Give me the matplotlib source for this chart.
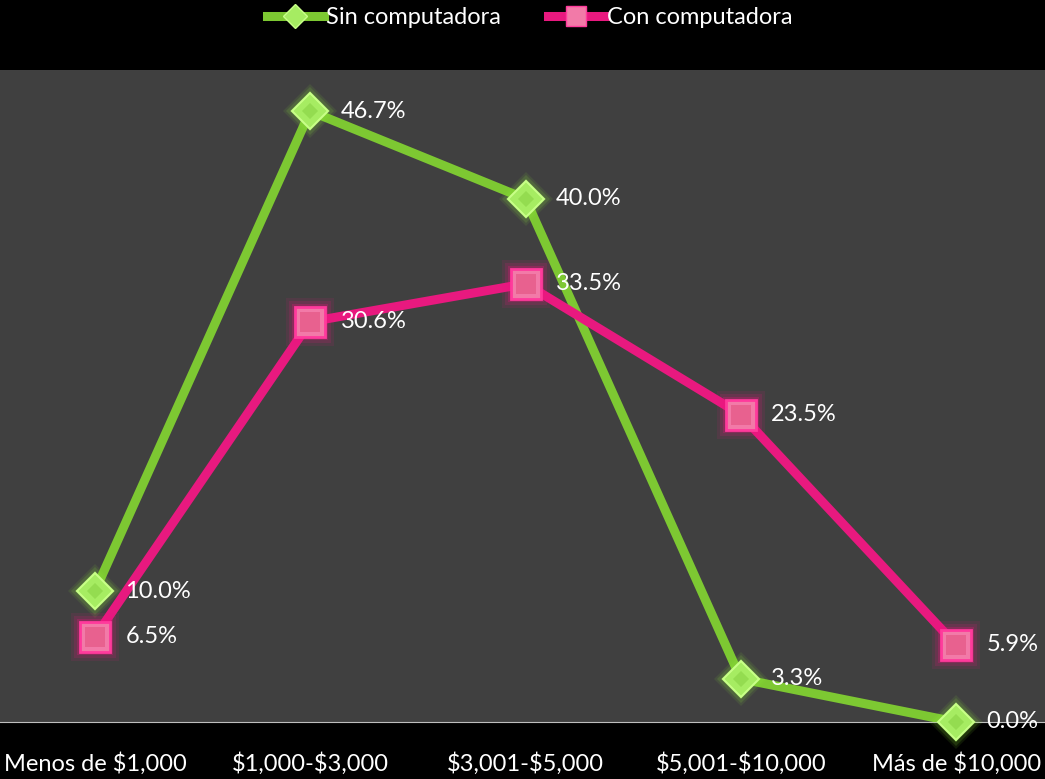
import matplotlib.pyplot as plt
from matplotlib.lines import Line2D

categorias = ["Menos de $1,000", "$1,000-$3,000", "$3,001-$5,000", "$5,001-$10,000", "Más de $10,000"]
sin_computadora = [10.0, 46.7, 40.0, 3.3, 0.0]
con_computadora = [6.5, 30.6, 33.5, 23.5, 5.9]

plt.rcParams['font.family'] = ['Lato', 'DejaVu Sans']
plt.rcParams['text.parse_math'] = False

verde = '#7dc832'
rosa = '#e8197f'

fig = plt.figure(figsize=(10.45, 7.79), dpi=100, facecolor='black')
ax = fig.add_axes([0, 0.0732, 1, 0.837])
ax.set_facecolor('#404040')

x = list(range(len(categorias)))

# lineas
ax.plot(x, sin_computadora, color=verde, lw=6.5, zorder=2, solid_capstyle='butt')
ax.plot(x, con_computadora, color=rosa, lw=6.5, zorder=4, solid_capstyle='butt')

# brillo alrededor de los marcadores
for s, a in [(34, 0.10), (30, 0.15), (26, 0.25)]:
    ax.plot(x, sin_computadora, ls='none', marker='D', ms=s * 0.8, color='#8ee63a',
            alpha=a, mew=0, zorder=3, clip_on=False)
    ax.plot(x, con_computadora, ls='none', marker='s', ms=s, color='#f0157f',
            alpha=a, mew=0, zorder=5, clip_on=False)

ax.plot(x, sin_computadora, ls='none', marker='D', ms=18, mfc='#a6ec62',
        mec='#c8ff88', mew=1.5, zorder=3.5, clip_on=False)
ax.plot(x, sin_computadora, ls='none', marker='D', ms=8, mfc='#94dc50',
        mew=0, zorder=3.6, clip_on=False)
ax.plot(x, con_computadora, ls='none', marker='s', ms=21, mfc='#f27aa8',
        mec='#ff3a9c', mew=2, zorder=5.5, clip_on=False)
ax.plot(x, con_computadora, ls='none', marker='s', ms=14, mfc='#e8618f',
        mew=0, zorder=5.6, clip_on=False)

# etiquetas de datos
for xi, v in zip(x, sin_computadora):
    ax.annotate(f"{v:.1f}%", (xi, v), xytext=(22, 0), textcoords='offset points',
                va='center', ha='left', color='white', fontsize=17, zorder=6)
for xi, v in zip(x, con_computadora):
    ax.annotate(f"{v:.1f}%", (xi, v), xytext=(22, 0), textcoords='offset points',
                va='center', ha='left', color='white', fontsize=17, zorder=6)

ax.set_xlim(-0.441, 4.413)
ax.set_ylim(0, 49.85)
ax.set_yticks([])
ax.set_xticks(x)
ax.set_xticklabels(categorias, color='white', fontsize=17)
ax.tick_params(axis='x', length=0, pad=22)
for lado in ['top', 'left', 'right']:
    ax.spines[lado].set_visible(False)
ax.spines['bottom'].set_color('#bfbfbf')
ax.spines['bottom'].set_linewidth(0.8)

handles = [
    Line2D([], [], color=verde, lw=6.5, marker='D', ms=12, mfc='#a6ec62', mec='#c8ff88'),
    Line2D([], [], color=rosa, lw=6.5, marker='s', ms=14, mfc='#f27aa8', mec='#ff3a9c'),
]
fig.legend(handles, ["Sin computadora", "Con computadora"], loc='upper center',
           bbox_to_anchor=(0.507, 1.018), ncol=2, frameon=False, fontsize=17,
           labelcolor='white', handlelength=2.4, handletextpad=0.1, columnspacing=2.0)

fig.savefig('out.png', dpi=100, facecolor='black')
